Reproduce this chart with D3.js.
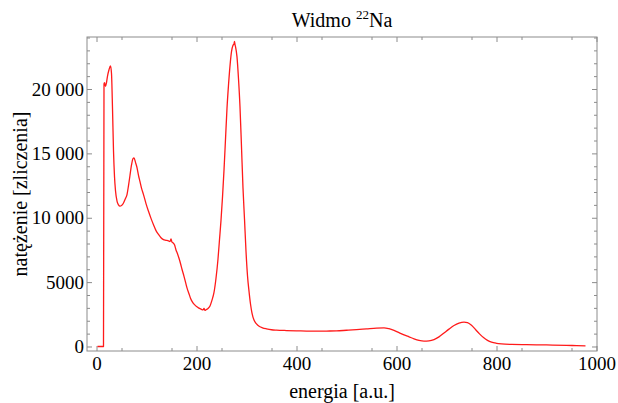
<!DOCTYPE html>
<html>
<head>
<meta charset="utf-8">
<script src="https://cdn.jsdelivr.net/npm/d3@7"></script>
<style>
  html, body { margin: 0; padding: 0; background: #fff; }
  svg { display: block; }
  text { font-family: "Liberation Serif", "Times New Roman", serif; fill: #000; }
</style>
</head>
<body>
<svg id="chart" width="618" height="403"></svg>
<script>
// Energy channel (a.u.) of each sample
const energy = [
  2, 8, 14, 15, 16, 18, 20, 22, 25, 28, 30, 32, 34, 36, 38, 41, 44, 47, 50, 54,
  58, 61, 64, 67, 70, 73, 75, 78, 81, 84, 87, 90, 94, 99, 104, 109, 114, 119, 124, 129,
  134, 139, 144, 147, 149, 151, 153, 156, 159, 162, 165, 168, 171, 175, 178, 181, 185, 188, 192, 196, 200, 205,
  210, 213, 215, 217, 219, 223, 227, 231, 235, 239, 243, 246, 249, 252, 255, 258, 261, 264, 267, 270, 273, 275, 276, 277,
  278, 281, 284, 287, 290, 293, 296, 299, 302, 305, 308, 311, 315, 320, 326, 332, 340, 350, 360, 380,
  400, 420, 440, 460, 480, 500, 520, 540, 560, 575, 585, 595, 605, 615, 625, 635, 645, 655, 665, 675,
  685, 695, 705, 715, 725, 735, 742, 750, 758, 766, 774, 782, 790, 800, 810, 830, 860, 900, 940, 960,
  978
];
// Counts recorded in each channel
const counts = [
  0, 0, 0, 20400, 20500, 20200, 20500, 21000, 21500, 21800, 21200, 18500, 15200, 13200, 12100, 11300, 11000, 10900, 10950, 11150,
  11500, 11800, 12500, 13300, 14100, 14600, 14650, 14300, 13900, 13300, 12800, 12300, 11800, 11100, 10500, 9950, 9450, 9000, 8700, 8450,
  8300, 8250, 8200, 8150, 8350, 8100, 8050, 7900, 7500, 7200, 6850, 6450, 6000, 5450, 5000, 4550, 4100, 3750, 3450, 3250, 3100, 2980,
  2880, 2840, 2950, 2800, 2850, 2950, 3150, 3600, 4200, 5300, 6800, 8300, 9800, 11600, 13700, 16100, 18500, 20300, 21800, 22900, 23400, 23500, 23700, 23450,
  23300, 22500, 20800, 18600, 15500, 12300, 9900, 7400, 5500, 4300, 3300, 2600, 2050, 1750, 1550, 1450, 1370, 1300, 1270, 1240,
  1220, 1200, 1190, 1200, 1210, 1260, 1310, 1370, 1430, 1450, 1380, 1250, 1080, 900, 750, 600, 480, 420, 440, 540,
  750, 1050, 1350, 1630, 1820, 1900, 1860, 1650, 1320, 980, 690, 480, 340, 250, 200, 160, 140, 120, 90, 70,
  50
];

const xTicks = [0, 200, 400, 600, 800, 1000];
const yTicks = [0, 5000, 10000, 15000, 20000];
const titleText = "Widmo ";
const titleSup = "22";
const titleEnd = "Na";
const xLabel = "energia [a.u.]";
const yLabel = "natężenie [zliczenia]";

const svg = d3.select("#chart");
const plotL = 87, plotR = 597, plotT = 37, plotB = 351;

const x = d3.scaleLinear().domain([-19, 1001]).range([plotL, plotR]);
const y = d3.scaleLinear().domain([-350, 24040]).range([plotB, plotT]);

const frameColor = "#8c8c8c";
// Five-digit counts are grouped in threes with a space, four-digit ones are not
const grouped = d3.formatLocale({ decimal: ".", thousands: " ", grouping: [3], currency: ["", ""] }).format(",");
const yFmt = d => d >= 10000 ? grouped(d) : String(d);
const xFmt = d3.format("d");

const xMinor = d3.range(50, 1000, 100);
const yMinor = d3.range(1000, 24001, 1000).filter(v => v % 5000 !== 0);

function styleAxis(g) {
  g.select(".domain").remove();
  g.selectAll(".tick line").attr("stroke", frameColor).attr("stroke-width", 1);
  g.selectAll(".tick text")
    .attr("font-family", "Liberation Serif").attr("font-size", 19).attr("fill", "#000")
    .style("white-space", "pre");
}

// Bottom axis with labels, inward ticks
svg.append("g").attr("transform", `translate(0,${plotB})`)
  .call(d3.axisBottom(x).tickValues(xTicks).tickSizeInner(-5).tickSizeOuter(0).tickPadding(6).tickFormat(xFmt))
  .call(styleAxis);
svg.append("g").attr("transform", `translate(0,${plotB})`)
  .call(d3.axisBottom(x).tickValues(xMinor).tickSizeInner(-3).tickSizeOuter(0).tickFormat(""))
  .call(styleAxis);
// Top mirror ticks
svg.append("g").attr("transform", `translate(0,${plotT})`)
  .call(d3.axisTop(x).tickValues(xTicks).tickSizeInner(-5).tickSizeOuter(0).tickFormat(""))
  .call(styleAxis);
svg.append("g").attr("transform", `translate(0,${plotT})`)
  .call(d3.axisTop(x).tickValues(xMinor).tickSizeInner(-3).tickSizeOuter(0).tickFormat(""))
  .call(styleAxis);

// Left axis with labels, inward ticks
svg.append("g").attr("transform", `translate(${plotL},0)`)
  .call(d3.axisLeft(y).tickValues(yTicks).tickSizeInner(-5).tickSizeOuter(0).tickPadding(3).tickFormat(yFmt))
  .call(styleAxis);
svg.append("g").attr("transform", `translate(${plotL},0)`)
  .call(d3.axisLeft(y).tickValues(yMinor).tickSizeInner(-3).tickSizeOuter(0).tickFormat(""))
  .call(styleAxis);
// Right mirror ticks
svg.append("g").attr("transform", `translate(${plotR},0)`)
  .call(d3.axisRight(y).tickValues(yTicks).tickSizeInner(-5).tickSizeOuter(0).tickFormat(""))
  .call(styleAxis);
svg.append("g").attr("transform", `translate(${plotR},0)`)
  .call(d3.axisRight(y).tickValues(yMinor).tickSizeInner(-3).tickSizeOuter(0).tickFormat(""))
  .call(styleAxis);

// Frame
svg.append("rect")
  .attr("x", plotL).attr("y", plotT)
  .attr("width", plotR - plotL).attr("height", plotB - plotT)
  .attr("fill", "none").attr("stroke", frameColor).attr("stroke-width", 1);

// Spectrum
const pts = energy.map((e, i) => [e, counts[i]]);
const line = d3.line().x(d => x(d[0])).y(d => y(d[1])).curve(d3.curveMonotoneX);
svg.append("path")
  .datum(pts)
  .attr("d", line)
  .attr("fill", "none")
  .attr("stroke", "#ff1a1a")
  .attr("stroke-width", 1.3)
  .attr("stroke-linejoin", "round");

// Title
const title = svg.append("text")
  .attr("x", (plotL + plotR) / 2).attr("y", 27)
  .attr("text-anchor", "middle").attr("font-size", 20);
title.append("tspan").text(titleText);
title.append("tspan").attr("font-size", 13).attr("dy", -8).text(titleSup);
title.append("tspan").attr("dy", 8).text(titleEnd);

// Axis labels
svg.append("text")
  .attr("x", (plotL + plotR) / 2).attr("y", 398)
  .attr("text-anchor", "middle").attr("font-size", 20)
  .text(xLabel);
svg.append("text")
  .attr("transform", `translate(27,${(plotT + plotB) / 2}) rotate(-90)`)
  .attr("text-anchor", "middle").attr("font-size", 20)
  .text(yLabel);
</script>
</body>
</html>
